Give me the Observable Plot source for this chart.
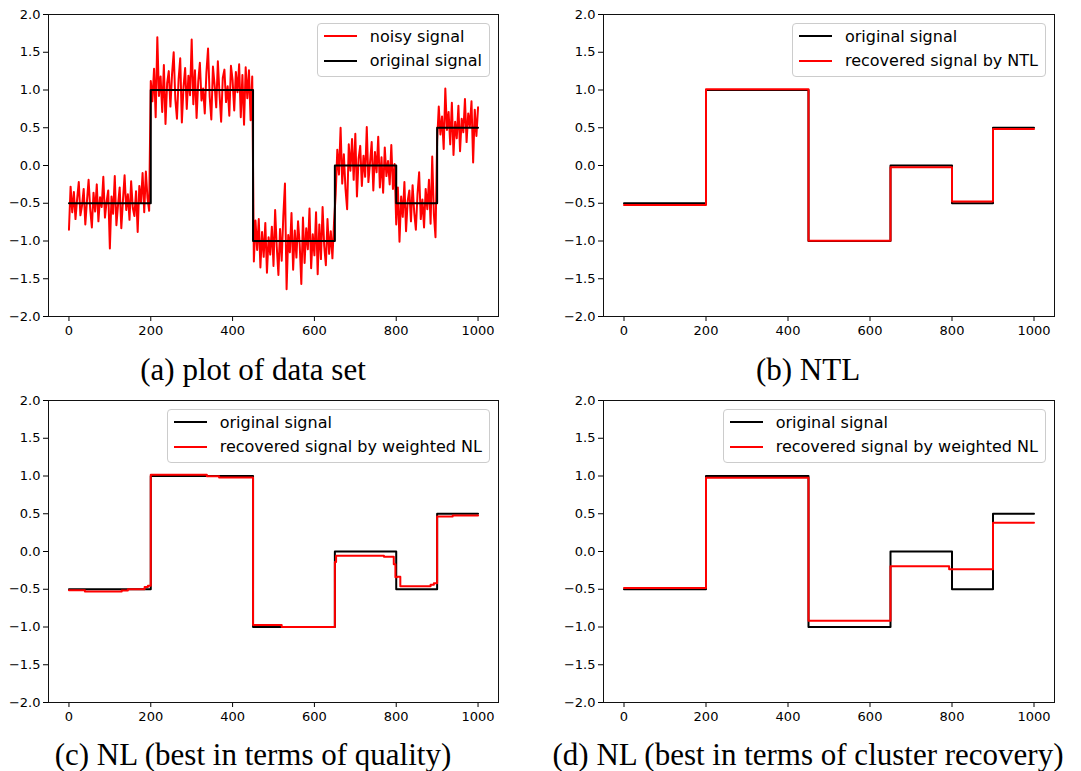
<!DOCTYPE html>
<html><head><meta charset="utf-8">
<script src="https://cdn.jsdelivr.net/npm/d3@7"></script>
<script src="https://cdn.jsdelivr.net/npm/@observablehq/plot@0.6"></script>
<style>
body{margin:0;background:#fff;}
#fig{position:relative;width:1081px;height:771px;overflow:hidden;font-family:"DejaVu Sans",sans-serif;background:#fff;}
.panel{position:absolute;}
.legend{position:absolute;border:1px solid #cccccc;border-radius:4px;background:rgba(255,255,255,0.8);padding:0 7px 3px 6px;font-size:16px;color:#000;font-family:"DejaVu Sans",sans-serif;}
.row{display:flex;align-items:center;height:24.5px;white-space:nowrap;}
.swatch{width:33px;height:2px;margin-right:13px;}
.caption{position:absolute;font-family:"Liberation Serif",serif;font-size:31px;line-height:31px;text-align:center;white-space:nowrap;color:#000;width:540px;}
</style></head><body><div id="fig"></div><script>
// ---- data ----
const xTicks = [0, 200, 400, 600, 800, 1000];
const yTicks = [-2, -1.5, -1, -0.5, 0, 0.5, 1, 1.5, 2];

// original piecewise-constant signal (breakpoints)
const stepX = [0, 200, 450, 650, 800, 900, 1000];
const originalY = [-0.5, 1, -1, 0, -0.5, 0.5, 0.5];

// (b) recovered by NTL
const ntlX = [0, 200, 450, 650, 800, 900, 1000];
const ntlY = [-0.522, 1.009, -0.996, -0.022, -0.478, 0.482, 0.482];

// (c) NL best quality
const nlQualityX = [0, 39, 129, 144, 185, 193, 200, 337, 367, 450, 520, 650, 653, 770, 794, 798, 802, 810, 884, 892, 900, 938, 1000];
const nlQualityY = [-0.513, -0.53, -0.518, -0.5, -0.47, -0.455, 1.015, 0.997, 0.98, -0.975, -1.0, -0.14, -0.055, -0.07, -0.17, -0.34, -0.335, -0.46, -0.44, -0.42, 0.465, 0.478, 0.478];

// (d) NL best cluster recovery
const nlClusterX = [0, 200, 450, 650, 793, 900, 1000];
const nlClusterY = [-0.482, 0.978, -0.916, -0.195, -0.235, 0.38, 0.38];

// (a) noisy signal, sampled every 4 units
const noisyStep = 4;
const noisyY = [
-0.85,-0.28,-0.62,-0.35,-0.71,-0.44,-0.22,-0.66,-0.53,-0.31,
-0.78,-0.47,-0.19,-0.58,-0.82,-0.36,-0.61,-0.25,-0.74,-0.42,
-0.55,-0.15,-0.69,-0.48,-0.33,-1.10,-0.41,-0.64,-0.14,-0.79,
-0.52,-0.29,-0.83,-0.46,-0.13,-0.59,-0.38,-0.72,-0.21,-0.56,
-0.67,-0.34,-0.88,-0.27,-0.49,-0.10,-0.62,-0.08,-0.43,-0.60,
1.12,0.85,1.28,0.64,1.70,0.92,1.18,0.71,1.33,0.55,
1.09,1.25,0.78,1.21,1.50,0.88,0.62,1.14,1.42,0.57,
1.04,1.29,0.75,1.19,0.93,1.67,0.81,1.26,0.63,1.11,
1.36,0.86,1.02,0.69,1.23,1.55,0.91,0.61,1.31,1.07,
0.77,1.38,0.95,0.58,1.16,1.27,0.84,1.05,0.66,1.32,
1.13,0.73,1.24,0.97,1.34,0.64,1.20,0.54,1.30,0.89,
1.26,0.60,1.18,
-1.27,-0.73,-1.12,-0.71,-1.35,-0.88,-1.21,-0.76,-1.42,-0.95,
-1.18,-0.81,-1.33,-0.59,-1.08,-1.45,-0.84,-1.26,-0.67,-0.24,
-1.64,-0.92,-1.15,-0.63,-1.38,-0.86,-1.22,-0.74,-1.04,-1.57,
-0.69,-1.29,-0.83,-1.11,-0.57,-1.36,-0.91,-1.19,-0.62,-1.44,
-0.78,-1.24,-0.55,-1.07,-1.32,-0.71,-1.17,-0.87,-1.23,-0.75,
-0.38,0.21,-0.12,0.50,-0.24,0.15,-0.31,-0.58,0.28,
-0.07,0.35,-0.19,0.42,-0.41,0.09,0.26,-0.27,0.13,-0.15,
0.51,-0.22,0.04,0.31,-0.33,0.18,-0.09,0.38,-0.29,0.11,
-0.36,0.24,-0.14,0.06,-0.25,0.27,-0.31,0.02,
-0.78,-0.29,-1.01,-0.41,-0.68,-0.22,-0.87,-0.47,-0.33,-0.74,
-0.26,-0.62,-0.85,-0.38,-0.09,-0.71,-0.45,-0.82,-0.31,-0.58,
-0.19,-0.77,0.12,-0.64,-0.95,
0.33,0.78,0.41,0.65,0.22,1.02,0.47,0.71,0.28,0.83,
0.14,0.58,0.36,0.79,0.19,0.62,0.44,0.88,0.31,0.69,
0.52,0.85,0.04,0.74,0.39,0.77
];

const captions = ["(a) plot of data set", "(b) NTL", "(c) NL (best in terms of quality)", "(d) NL (best in terms of cluster recovery)"];
const RED = "#ff0000", BLACK = "#000000";

// ---- build ----
const toRows = (xs, ys) => xs.map((x, i) => ({x, y: ys[i]}));
const noisyRows = noisyY.map((y, i) => ({x: i * noisyStep, y}));
const origRows = toRows(stepX, originalY);

const fig = document.getElementById("fig");
const fmtY = d => d.toFixed(1).replace("-", "\u2212");

function makePanel(cfg) {
  const W = cfg.width;
  const chart = Plot.plot({
    width: W, height: 350,
    marginLeft: cfg.mLeft, marginRight: cfg.mRight, marginTop: 14, marginBottom: 34,
    style: {fontSize: "13px", fontFamily: "DejaVu Sans, sans-serif", color: "#000", background: "transparent"},
    x: {domain: [-50, 1050]},
    y: {domain: [-2, 2]},
    marks: [
      Plot.axisX({ticks: xTicks, tickSize: 5, tickPadding: 4, tickFormat: d => String(d), label: null, fontSize: 13}),
      Plot.axisY({ticks: yTicks, tickSize: 5, tickPadding: 3, tickFormat: fmtY, label: null, fontSize: 13}),
      ...cfg.series.map(s => Plot.line(s.data, {x: "x", y: "y", stroke: s.color, strokeWidth: s.width || 2, curve: s.curve || "step-after", strokeLinejoin: "round"})),
      Plot.frame({stroke: "#111", strokeWidth: 1})
    ]
  });
  chart.classList.add("panel");
  chart.style.left = cfg.left + "px";
  chart.style.top = cfg.top + "px";
  fig.appendChild(chart);

  // legend (upper right of frame)
  const lg = document.createElement("div");
  lg.className = "legend";
  lg.style.right = (1081 - (cfg.left + W - cfg.mRight) + 8) + "px";
  lg.style.top = (cfg.top + 14 + 9) + "px";
  cfg.legend.forEach(item => {
    const r = document.createElement("div"); r.className = "row";
    const sw = document.createElement("span"); sw.className = "swatch"; sw.style.background = item.color;
    const t = document.createElement("span"); t.textContent = item.label;
    r.appendChild(sw); r.appendChild(t); lg.appendChild(r);
  });
  fig.appendChild(lg);

  const cap = document.createElement("div");
  cap.className = "caption";
  cap.textContent = cfg.caption;
  cap.style.left = (cfg.capCenter - 270) + "px";
  cap.style.top = cfg.capTop + "px";
  fig.appendChild(cap);
}

makePanel({left: 0, top: 0, width: 540, mLeft: 48, mRight: 42, caption: captions[0], capCenter: 253, capTop: 354,
  series: [{data: noisyRows, color: RED, curve: "linear", width: 2}, {data: origRows, color: BLACK}],
  legend: [{label: "noisy signal", color: RED}, {label: "original signal", color: BLACK}]});

makePanel({left: 540, top: 0, width: 541, mLeft: 63, mRight: 27, caption: captions[1], capCenter: 808, capTop: 354,
  series: [{data: origRows, color: BLACK}, {data: toRows(ntlX, ntlY), color: RED}],
  legend: [{label: "original signal", color: BLACK}, {label: "recovered signal by NTL", color: RED}]});

makePanel({left: 0, top: 386, width: 540, mLeft: 48, mRight: 42, caption: captions[2], capCenter: 253, capTop: 739,
  series: [{data: origRows, color: BLACK}, {data: toRows(nlQualityX, nlQualityY), color: RED}],
  legend: [{label: "original signal", color: BLACK}, {label: "recovered signal by weighted NL", color: RED}]});

makePanel({left: 540, top: 386, width: 541, mLeft: 63, mRight: 27, caption: captions[3], capCenter: 808, capTop: 739,
  series: [{data: origRows, color: BLACK}, {data: toRows(nlClusterX, nlClusterY), color: RED}],
  legend: [{label: "original signal", color: BLACK}, {label: "recovered signal by weighted NL", color: RED}]});
</script></body></html>
